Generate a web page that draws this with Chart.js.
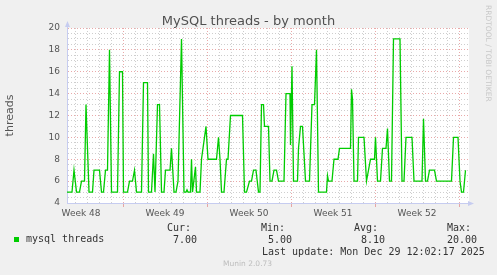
<!DOCTYPE html>
<html>
<head>
<meta charset="utf-8">
<title>MySQL threads - by month</title>
<script src="https://cdn.jsdelivr.net/npm/chart.js@4/dist/chart.umd.min.js"></script>
<style>
  html, body { margin: 0; padding: 0; background: #f0f0f0; }
  #wrap { position: relative; width: 497px; height: 275px; overflow: hidden; font-family: 'DejaVu Sans', sans-serif; }
  #wrap canvas { position: absolute; left: 0; top: 0; }
  .t { position: absolute; white-space: nowrap; line-height: 1; }
  .mono { font-family: 'DejaVu Sans Mono', monospace; font-size: 10px; color: #333; }
</style>
</head>
<body>
<div id="wrap">
  <canvas id="chart" width="497" height="275"></canvas>
  <div class="t" id="title" style="left:0;width:497px;text-align:center;top:14px;font-size:13px;color:#505050;"></div>
  <div class="t" id="credit" style="left:484px;top:5px;font-size:7.5px;color:#c8c8c8;writing-mode:vertical-rl;">RRDTOOL / TOBI OETIKER</div>
  <div id="swatch" style="position:absolute;left:14px;top:237px;width:5px;height:5px;"></div>
  <div class="t mono" id="series" style="left:26px;top:234px;"></div>
  <div id="stats"></div>
  <div class="t mono" id="updated" style="left:262px;top:247px;"></div>
  <div class="t" id="version" style="left:223px;top:260px;font-size:7.5px;color:#bdbdbd;"></div>
</div>
<script>
// hours counted from the first day line in the plot
const hours = [
  -16, -6, -2, 3, 9, 13, 19, 22, 28, 35, 38, 49, 53, 57, 61, 65, 69, 73, 85, 89,
  95, 97, 105, 109, 115, 119, 123, 133, 137, 145, 147, 153, 157, 160, 165, 169, 173, 178, 181, 190,
  193, 198, 202, 206, 213, 218, 222, 224, 226, 231, 233, 235, 241, 243, 250, 253, 262, 266, 283, 287,
  290, 293, 298, 303, 306, 311, 335, 339, 343, 349, 353, 357, 362, 367, 370, 373, 377, 379, 387, 390,
  394, 398, 403, 407, 418, 422, 430, 431, 434, 437, 445, 447, 451, 455, 461, 469, 474, 479, 483, 487,
  503, 505, 507, 514, 518, 526, 529, 551, 553, 555, 558, 565, 567, 578, 583, 587, 591, 599, 601, 605,
  611, 615, 622, 625, 629, 633, 637, 650, 654, 658, 662, 674, 678, 694, 697, 701, 705, 709, 719, 723,
  753, 757, 766, 770, 773, 777, 781
];
const threads = [
  5, 5, 7, 5, 5, 6, 6, 13, 5, 5, 7, 7, 5, 5, 7, 7, 18, 5, 5, 16,
  16, 5, 5, 6, 6, 7, 5, 5, 15, 15, 5, 5, 8.5, 5, 13, 13, 5, 5, 7, 7,
  9, 5, 5, 6, 19, 5, 5, 5.2, 5, 5, 8, 5, 7.3, 5, 5, 8, 11, 8, 8, 10,
  8, 5, 5, 8, 8, 12, 12, 5, 5, 6, 6, 7, 7, 5, 5, 13, 13, 11, 11, 6,
  6, 7, 7, 6, 6, 14, 14, 9.3, 16.5, 6, 6, 9, 11, 11, 6, 6, 13, 13, 18, 5,
  5, 6.5, 6, 6, 8, 8, 9, 9, 14.4, 13.5, 6, 6, 10, 10, 6, 7, 8, 8, 10, 6,
  6, 9, 9, 10.8, 6, 6, 19, 19, 6, 6, 10, 10, 6, 6, 11.7, 6, 6, 7, 7, 6,
  6, 10, 10, 6, 5, 5, 7
];
const weekLabels = ['Week 48', 'Week 49', 'Week 50', 'Week 51', 'Week 52'];
const seriesName = 'mysql threads';
const statNames = ['Cur:', 'Min:', 'Avg:', 'Max:'];
const statValues = ['7.00', '5.00', '8.10', '20.00'];

const lineColor = '#00cc00';
const axisColor = '#c6ccf0';
const majorGrid = 'rgba(225,140,140,0.75)';
const minorGrid = 'rgba(185,185,185,0.7)';
const clear = 'rgba(0,0,0,0)';

function isDayLine(v) { return v % 24 === 0; }
function isWeekLine(v) { return (v - 96) % 168 === 0; }

document.getElementById('title').textContent = 'MySQL threads - by month';
document.getElementById('swatch').style.background = lineColor;
document.getElementById('series').textContent = seriesName;
document.getElementById('updated').textContent = 'Last update: Mon Dec 29 12:02:17 2025';
document.getElementById('version').textContent = 'Munin 2.0.73';

const statX = [[167, 173], [261, 268], [354, 361], [447, 447]];
const stats = document.getElementById('stats');
statNames.forEach((name, i) => {
  const head = document.createElement('div');
  head.className = 't mono';
  head.style.left = statX[i][0] + 'px';
  head.style.top = '222.5px';
  head.textContent = name;
  stats.appendChild(head);
  const val = document.createElement('div');
  val.className = 't mono';
  val.style.left = statX[i][1] + 'px';
  val.style.top = '234.5px';
  val.textContent = statValues[i];
  stats.appendChild(val);
});

// white plot background and the little axis arrows
const muninFrame = {
  id: 'muninFrame',
  beforeDraw(chart) {
    const { ctx, chartArea: a } = chart;
    ctx.save();
    ctx.fillStyle = '#ffffff';
    ctx.fillRect(a.left, a.top, a.right - a.left, a.bottom - a.top);
    ctx.restore();
  },
  afterDraw(chart) {
    const { ctx, chartArea: a } = chart;
    const x = Math.round(a.left) + 0.5;
    const y = Math.round(a.bottom) + 0.5;
    ctx.save();
    ctx.strokeStyle = axisColor;
    ctx.fillStyle = axisColor;
    ctx.lineWidth = 1;
    ctx.beginPath();
    ctx.moveTo(x, a.top);
    ctx.lineTo(x, a.top - 5);
    ctx.moveTo(a.right, y);
    ctx.lineTo(a.right + 4, y);
    ctx.stroke();
    ctx.beginPath();
    ctx.moveTo(x, a.top - 7);
    ctx.lineTo(x - 2.5, a.top - 1);
    ctx.lineTo(x + 2.5, a.top - 1);
    ctx.closePath();
    ctx.fill();
    ctx.beginPath();
    ctx.moveTo(a.right + 5, y);
    ctx.lineTo(a.right - 1, y - 2.5);
    ctx.lineTo(a.right - 1, y + 2.5);
    ctx.closePath();
    ctx.fill();
    ctx.restore();
  }
};

const points = hours.map((h, i) => ({ x: h, y: threads[i] }));

new Chart(document.getElementById('chart').getContext('2d'), {
  type: 'line',
  data: {
    datasets: [{
      label: seriesName,
      data: points,
      borderColor: lineColor,
      borderWidth: 1.3,
      pointRadius: 0,
      tension: 0,
      fill: false
    }]
  },
  options: {
    responsive: false,
    animation: false,
    devicePixelRatio: 1,
    layout: { padding: { left: 0, right: 28, top: 28, bottom: 52 } },
    plugins: {
      legend: { display: false },
      title: { display: false },
      tooltip: { enabled: false }
    },
    scales: {
      x: {
        type: 'linear',
        min: -16,
        max: 788,
        afterBuildTicks(scale) {
          const ticks = [];
          for (let h = 0; h <= 780; h += 12) ticks.push({ value: h });
          scale.ticks = ticks;
        },
        afterFit(scale) { scale.height = 20; },
        border: { display: true, color: axisColor, width: 1, dash: [1, 2] },
        grid: {
          lineWidth: 1,
          tickLength: 4,
          color: (c) => {
            const v = c.tick ? c.tick.value : 0;
            if (!isDayLine(v)) return clear;
            return isWeekLine(v) ? majorGrid : minorGrid;
          },
          tickColor: (c) => {
            const v = c.tick ? c.tick.value : 0;
            return isWeekLine(v) ? majorGrid : clear;
          }
        },
        ticks: {
          autoSkip: false,
          maxRotation: 0,
          minRotation: 0,
          padding: 1,
          color: '#555',
          font: { family: 'DejaVu Sans', size: 9 },
          callback: (v) => {
            const k = (v - 12) / 168;
            return Number.isInteger(k) && weekLabels[k] ? weekLabels[k] : '';
          }
        }
      },
      y: {
        min: 4,
        max: 20,
        afterFit(scale) { scale.width = 67; },
        border: { display: true, color: axisColor, width: 1, dash: [1, 2] },
        title: {
          display: true,
          text: 'threads',
          color: '#555',
          font: { family: 'DejaVu Sans', size: 11 }
        },
        grid: {
          lineWidth: 1,
          drawTicks: false,
          color: (c) => {
            const v = c.tick ? c.tick.value : 0;
            if (v === 4) return clear;
            return v % 2 === 0 ? majorGrid : minorGrid;
          }
        },
        ticks: {
          stepSize: 0.5,
          autoSkip: false,
          padding: 7,
          color: '#555',
          font: { family: 'DejaVu Sans', size: 9 },
          callback: (v) => (v % 2 === 0 ? String(v) : '')
        }
      }
    }
  },
  plugins: [muninFrame]
});
</script>
</body>
</html>
